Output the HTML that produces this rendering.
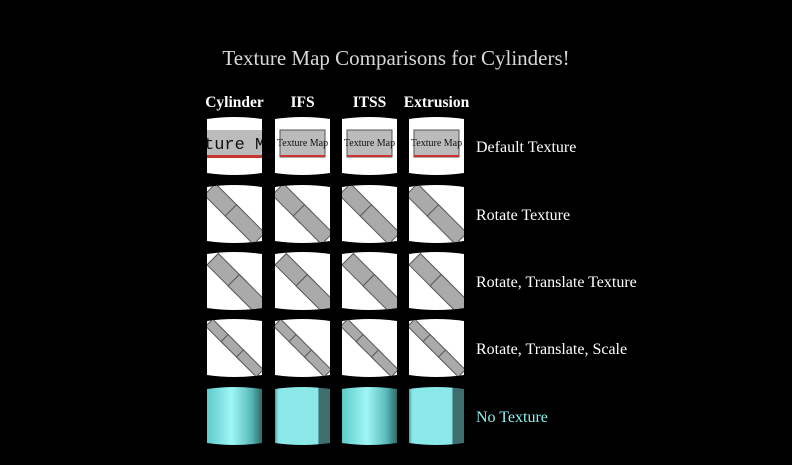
<!DOCTYPE html>
<html><head><meta charset="utf-8"><style>
html,body{margin:0;padding:0;background:#000;}
svg{display:block;font-family:"Liberation Serif",serif;}
</style></head><body>
<svg id="s" width="792" height="465" viewBox="0 0 792 465">
<defs>
<linearGradient id="cyl" x1="0" x2="1" y1="0" y2="0">
<stop offset="0" stop-color="#5fc9c9"/><stop offset="0.45" stop-color="#9ff7f7"/><stop offset="0.8" stop-color="#5bbaba"/><stop offset="1" stop-color="#2e6a6a"/></linearGradient>
<linearGradient id="ext" x1="0" x2="1" y1="0" y2="0">
<stop offset="0" stop-color="#4a9a9a"/><stop offset="0.06" stop-color="#8ae8e8"/><stop offset="0.78" stop-color="#8ae8e8"/><stop offset="0.8" stop-color="#3e6e6e"/><stop offset="1" stop-color="#3e6e6e"/></linearGradient>
</defs>
<text x="396" y="65" text-anchor="middle" font-size="21" fill="#d8d8d8">Texture Map Comparisons for Cylinders!</text>
<g id="cells"></g>
</svg>
<script>
const columns=["Cylinder","IFS","ITSS","Extrusion"];
const rows=["Default Texture","Rotate Texture","Rotate, Translate Texture","Rotate, Translate, Scale","No Texture"];
const colX=[207,275,342,409];
const rowY=[116,184,251,318,386];
const W=55,H=60;
const ns="http://www.w3.org/2000/svg";
const g=document.getElementById('cells');
function el(t,a,p){const e=document.createElementNS(ns,t);for(const k in a)e.setAttribute(k,a[k]);(p||g).appendChild(e);return e;}
columns.forEach((c,i)=>{
 const t=el('text',{x:colX[i]+W/2,y:107,'text-anchor':'middle','font-size':15.5,'font-weight':'bold',fill:'#fff'});
 t.textContent=c;
 
 
});
rows.forEach((r,j)=>{
 const t=el('text',{x:476,y:rowY[j]+36,'font-size':16,fill:j==4?'#8ef0f0':'#fff'});
 t.textContent=r;
 
 
 columns.forEach((c,i)=>{
  const x=colX[i],y=rowY[j];
  const d=`M${x},${y+3} Q${x+W/2},${y-1} ${x+W},${y+3} L${x+W},${y+H-3} Q${x+W/2},${y+H+1} ${x},${y+H-3} Z`;
  const cid='cp'+i+'_'+j;
  const cp=el('clipPath',{id:cid});el('path',{d:d},cp);
  const grp=el('g',{'clip-path':`url(#${cid})`});
  
  
  if(j==4){
   el('rect',{x:x,y:y-5,width:W,height:H+10,fill:i%2?'url(#ext)':'url(#cyl)'},grp);
  }else{
   el('rect',{x:x,y:y-5,width:W,height:H+10,fill:'#fff'},grp);
   if(j==0){
    if(i==0){
     el('rect',{x:x,y:y+14,width:W,height:26,fill:'#bbb'},grp);
     el('rect',{x:x,y:y+39,width:W,height:3,fill:'#c33'},grp);
     const tt=el('text',{x:x-3,y:y+33,'font-size':17,'font-family':'Liberation Mono,monospace',fill:'#111'},grp);tt.textContent='ture Ma';
    }else{
     el('rect',{x:x+5,y:y+14,width:W-10,height:27,fill:'#bbb',stroke:'#555'},grp);
     el('rect',{x:x+5,y:y+39,width:W-10,height:2,fill:'#c33'},grp);
     const tt=el('text',{x:x+W/2,y:y+30,'font-size':10,'text-anchor':'middle',fill:'#111'},grp);tt.textContent='Texture Map';
    }
   }else{
    const n=j==3?3:2;
    for(let k=0;k<n;k++){
     const off=(k-(n-1)/2)*(j==3?22:30)+(j==2?4:0);
     const cx=x+W/2+off*0.7,cy=y+H/2+off*0.7;
     el('rect',{x:cx-(j==3?14:20),y:cy-(j==3?5:8),width:j==3?28:40,height:j==3?10:16,fill:'#aaa',stroke:'#555',transform:`rotate(45 ${cx} ${cy})`},grp);
    }
   }
  }
 });
});
</script>
</body></html>
